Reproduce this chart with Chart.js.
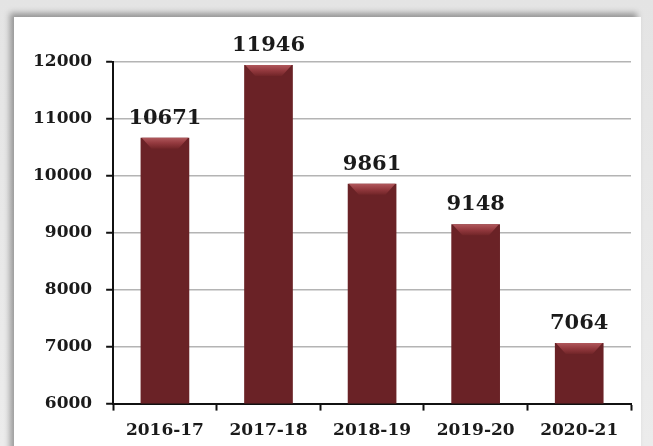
<!DOCTYPE html>
<html>
<head>
<meta charset="utf-8">
<script src="https://cdn.jsdelivr.net/npm/chart.js@4/dist/chart.umd.min.js"></script>
<style>
  html, body { margin: 0; padding: 0; }
  body { width: 653px; height: 446px; position: relative; overflow: hidden;
         background: linear-gradient(to bottom, #e4e4e4, #ececec); }
  #panel { position: absolute; left: 14px; top: 17px; width: 627px; height: 440px;
           background: #fff; box-shadow: -4px -4px 6px rgba(0,0,0,0.35); }
  #wrap { position: absolute; left: 0; top: 0; width: 653px; height: 446px; }
</style>
</head>
<body>
<div id="panel"></div>
<div id="wrap"><canvas id="barChart" width="653" height="446"></canvas></div>
<script>
const years = ["2016-17", "2017-18", "2018-19", "2019-20", "2020-21"];
const counts = [10671, 11946, 9861, 9148, 7064];
const yMin = 6000;
const yMax = 12000;
const yStep = 1000;

const fontFam = "'DejaVu Serif', serif";

// darker at the edges, a bit lighter in the middle, like the bevelled bars
function barFill(context) {
  const el = context.element;
  const ctx = context.chart.ctx;
  if (!el || !el.width) return "#6a2226";
  const left = el.x - el.width / 2;
  const g = ctx.createLinearGradient(left, 0, left + el.width, 0);
  g.addColorStop(0, "#4a1316");
  g.addColorStop(0.1, "#682125");
  g.addColorStop(0.5, "#6f2428");
  g.addColorStop(0.9, "#682125");
  g.addColorStop(1, "#4a1316");
  return g;
}

const bevelAndLabels = {
  id: "bevelAndLabels",
  afterDatasetsDraw(chart) {
    const ctx = chart.ctx;
    const meta = chart.getDatasetMeta(0);
    ctx.save();
    meta.data.forEach((bar, i) => {
      const left = bar.x - bar.width / 2;
      const right = bar.x + bar.width / 2;
      const top = bar.y;
      const b = 11;
      // lighter top bevel
      const g = ctx.createLinearGradient(0, top, 0, top + b);
      g.addColorStop(0, "#b0585c");
      g.addColorStop(0.5, "#93393e");
      g.addColorStop(1, "#712528");
      ctx.fillStyle = g;
      ctx.beginPath();
      ctx.moveTo(left + 1, top);
      ctx.lineTo(right - 1, top);
      ctx.lineTo(right - b, top + b);
      ctx.lineTo(left + b, top + b);
      ctx.closePath();
      ctx.fill();

      ctx.fillStyle = "#1a1a1a";
      ctx.font = "bold 21px " + fontFam;
      ctx.textAlign = "center";
      ctx.textBaseline = "bottom";
      ctx.fillText(String(counts[i]), bar.x, top - 9);
    });
    ctx.restore();
  }
};

new Chart(document.getElementById("barChart").getContext("2d"), {
  type: "bar",
  data: {
    labels: years,
    datasets: [
      {
        data: counts,
        backgroundColor: barFill,
        borderWidth: 0,
        barPercentage: 0.47,
        categoryPercentage: 1.0,
      },
    ],
  },
  options: {
    responsive: false,
    animation: false,
    layout: { padding: { left: 19, right: 22, top: 62, bottom: -5 } },
    plugins: {
      legend: { display: false },
      tooltip: { enabled: false },
    },
    scales: {
      x: {
        grid: {
          display: true,
          offset: true,
          drawOnChartArea: false,
          drawTicks: true,
          tickLength: 7,
          tickWidth: 2,
          tickColor: "#111",
        },
        border: { display: true, color: "#111", width: 2 },
        ticks: {
          color: "#1a1a1a",
          font: { family: fontFam, size: 17, weight: "bold" },
          padding: 10,
        },
      },
      y: {
        min: yMin,
        max: yMax,
        grid: {
          color: "#b4b4b4",
          lineWidth: 1.5,
          drawTicks: true,
          tickLength: 7,
          tickWidth: 2,
          tickColor: "#111",
        },
        border: { display: true, color: "#111", width: 2 },
        ticks: {
          stepSize: yStep,
          color: "#1a1a1a",
          font: { family: fontFam, size: 17, weight: "bold" },
          padding: 14,
          callback: (v) => String(v),
        },
      },
    },
  },
  plugins: [bevelAndLabels],
});
</script>
</body>
</html>
